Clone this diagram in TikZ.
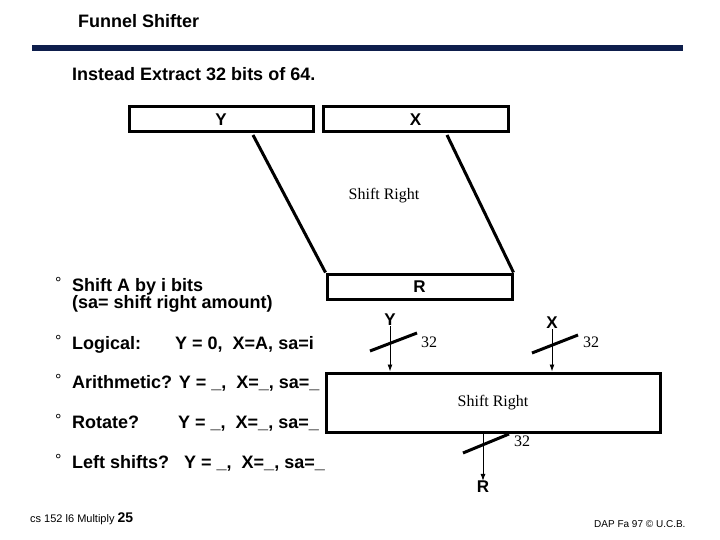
\documentclass[tikz,border=0pt]{standalone}
\usepackage{fontspec}
\setmainfont{Liberation Sans}
\newfontfamily\serifface{Liberation Serif}
\usetikzlibrary{arrows.meta,positioning}
\definecolor{barblue}{HTML}{0E1E4C}
\tikzset{
  reg/.style={draw,line width=3pt,rectangle,inner sep=0pt,font=\bfseries\fontsize{17}{17}\selectfont},
  wire/.style={line width=3pt},
  flow/.style={-{Latex[length=7pt,width=5pt]},line width=0.9pt},
  bus/.style={line width=3pt},
  item/.style={anchor=base west,inner sep=0pt,font=\bfseries\fontsize{18}{18}\selectfont},
  dot/.style={anchor=base west,inner sep=0pt,yshift=2.5pt,font=\fontsize{16}{16}\selectfont},
  tag/.style={inner sep=0pt,font=\bfseries\fontsize{17}{17}\selectfont},
  width/.style={anchor=west,inner sep=0pt,font=\serifface\fontsize{16}{16}\selectfont}
}

\begin{document}
\begin{tikzpicture}[x=1pt,y=-1pt]
\useasboundingbox (0,0) rectangle (720,540);

% heading
\node[item] (title) at (78,28) {Funnel Shifter};
\fill[barblue] (32,45) rectangle (683,51);
\node[item] (intro) at (72,81) {Instead Extract 32 bits of 64.};

% funnel: two input registers into one
\node[reg,minimum width=184pt,minimum height=25pt,text depth=-2pt] (ybox) at (221,119.5) {Y};
\node[reg,minimum width=185pt,minimum height=25pt,text depth=-2pt] (xbox) at (415.5,119.5) {X};
\node[reg,minimum width=185pt,minimum height=25pt,text depth=-2pt] (rbox) at (419.5,286.5) {R};
\coordinate (ytap) at (253,135);
\coordinate (xtap) at (447,135);
\draw[wire] (ytap) -- (rbox.north west);
\draw[wire] (xtap) -- (rbox.north east);
\node[width,anchor=center] (funlab) at (384,196) {Shift Right};

% bullets
\node[dot] (b1) at (55,291) {°};
\node[item] (shift) at (72,291) {Shift A by i bits};
\node[item] (amount) at (72,308) {(sa= shift right amount)};
\node[dot] (b2) at (55,349) {°};
\node[item] (logic) at (72,349) {Logical:};
\node[item] (logicv) at (175,349) {Y = 0,\ \ X=A, sa=i};
\node[dot] (b3) at (55,388) {°};
\node[item] (arith) at (72,388) {Arithmetic? Y = \_,\ \ X=\_, sa=\_};
\node[dot] (b4) at (55,428) {°};
\node[item] (rot) at (72,428) {Rotate?};
\node[item] (rotv) at (178,428) {Y = \_,\ \ X=\_, sa=\_};
\node[dot] (b5) at (55,468) {°};
\node[item] (left) at (72,468) {Left shifts?\ \ \ Y = \_,\ \ X=\_, sa=\_};

% shifter block
\node[reg,minimum width=334pt,minimum height=59pt,font=\serifface\fontsize{16}{16}\selectfont] (shr) at (493,402.5) {Shift Right};
\node[tag] (yin) at (390,320) {Y};
\node[tag] (xin) at (552,323) {X};
\node[tag] (rout) at (483,487) {R};
\draw[flow] (yin) -- (yin |- shr.north);
\draw[flow] (xin) -- (xin |- shr.north);
\draw[flow] (shr.south -| rout) -- (rout);
\draw[bus] (370,351) -- (417,333);
\draw[bus] (532,353) -- (578,335);
\draw[bus] (463,453) -- (509,434);
\node[width] (yw) at (421,342) {32};
\node[width] (xw) at (583,342) {32};
\node[width] (rw) at (514,441) {32};

% footer
\node[anchor=west,inner sep=0pt,font=\fontsize{11}{11}\selectfont] (course) at (30,519) {cs 152 l6 Multiply \textbf{\fontsize{14}{14}\selectfont 25}};
\node[anchor=west,inner sep=0pt,font=\fontsize{10}{10}\selectfont] (credit) at (594,524) {DAP Fa 97 © U.C.B.};
\end{tikzpicture}
\end{document}
